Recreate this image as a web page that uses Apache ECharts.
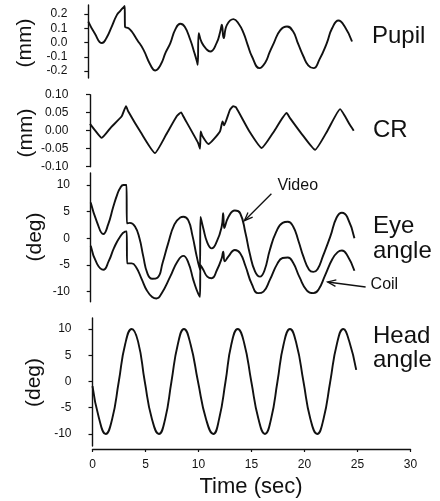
<!DOCTYPE html>
<html>
<head>
<meta charset="utf-8">
<script src="https://cdn.jsdelivr.net/npm/echarts@6/dist/echarts.min.js"></script>
<style>
  html, body { margin: 0; padding: 0; background: #fff; }
  #chart { width: 440px; height: 501px; }
</style>
</head>
<body>
<div id="chart"></div>
<script>
// Recorded traces: [time (s), value]
const pupilMm = [
  [0, 0.147], [0.6, 0.065], [1.29, -0.004], [1.7, 0.03], [2.2, 0.11], [2.7, 0.194],
  [3.0, 0.22], [3.43, 0.257], [3.46, 0.112], [3.8, 0.10], [4.1, 0.077], [4.6, 0.02],
  [5.2, -0.05], [5.85, -0.156], [6.32, -0.196], [6.8, -0.16], [7.3, -0.07], [7.74, -0.004],
  [8.2, 0.09], [8.68, 0.131], [9.1, 0.11], [9.62, 0.019], [10.0, -0.07], [10.25, -0.133],
  [10.32, -0.156], [10.42, 0.066], [10.7, 0.0], [11.2, -0.051], [11.5, -0.063], [12.1, -0.004],
  [12.45, 0.077], [12.6, 0.124], [12.77, 0.031], [13.08, 0.124], [13.7, 0.164], [14.2, 0.13],
  [14.65, 0.066], [15.05, -0.02], [15.44, -0.098], [16.16, -0.18], [16.7, -0.14], [17.1, -0.07],
  [17.5, -0.004], [18.1, 0.085], [18.75, 0.112], [19.3, 0.08], [19.8, -0.01], [20.3, -0.098],
  [20.75, -0.16], [21.25, -0.18], [21.8, -0.12], [22.5, -0.004], [23.0, 0.1], [23.6, 0.154],
  [24.2, 0.11], [24.88, 0.007]
];

const crMm = [
  [0, 0.019], [0.5, 0.0], [1.1, -0.020], [2.0, 0.01], [2.99, 0.040], [3.4, 0.068],
  [3.6, 0.054], [4.8, -0.005], [6.13, -0.062], [7.2, -0.01], [8.18, 0.040], [8.6, 0.051],
  [8.8, 0.040], [10.2, -0.034], [10.38, -0.05], [10.44, -0.002], [10.6, -0.015], [11.16, -0.037],
  [12.26, -0.002], [12.5, 0.026], [12.65, 0.015], [13.2, 0.058], [13.5, 0.068], [13.77, 0.065],
  [15.0, 0.0], [16.2, -0.048], [17.4, 0.0], [18.55, 0.049], [18.87, 0.035], [20.0, -0.01],
  [21.23, -0.053], [22.4, 0.0], [23.6, 0.06], [24.06, 0.040], [24.5, 0.017], [24.88, 0.0]
];

const eyeVideoDeg = [
  [0, 6.7], [0.6, 3.0], [1.19, 0.8], [1.65, 2.6], [2.13, 5.9], [2.5, 8.2], [2.77, 9.4],
  [3.08, 10.0], [3.38, 10.0], [3.41, 2.8], [3.7, 2.9], [4.18, 2.2], [4.6, 0.0], [4.96, -3.4],
  [5.35, -6.6], [5.8, -7.6], [6.3, -7.4], [6.8, -4.5], [7.3, -1.0], [7.9, 2.6], [8.45, 3.9],
  [8.74, 4.05], [9.2, 3.4], [9.6, 0.5], [10.0, -3.4], [10.3, -5.9], [10.36, 4.0], [10.62, 1.9],
  [11.0, -0.8], [11.42, -1.9], [11.9, -0.6], [12.36, 2.2], [12.5, 4.7], [12.6, 1.9], [13.0, 4.05],
  [13.6, 5.2], [14.1, 4.7], [14.6, 1.0], [15.0, -2.8], [15.5, -6.2], [15.97, -7.2], [16.4, -6.0],
  [16.9, -2.2], [17.5, 1.2], [18.1, 2.9], [18.6, 3.1], [19.1, 2.2], [19.6, -0.5], [20.06, -3.4],
  [20.6, -5.9], [21.0, -6.3], [21.4, -5.8], [21.9, -3.4], [22.6, 0.3], [23.2, 3.9], [23.7, 4.8],
  [24.2, 4.0], [24.88, 0.0]
];

const eyeCoilDeg = [
  [0, -1.4], [0.6, -4.8], [1.19, -5.9], [1.7, -4.3], [2.2, -1.8], [2.77, 0.3], [3.24, 1.25],
  [3.4, 1.3], [3.43, -4.7], [3.87, -4.7], [4.3, -5.5], [4.8, -7.6], [5.3, -9.8], [5.8, -11.0],
  [6.2, -11.3], [6.7, -10.3], [7.5, -7.2], [8.2, -4.3], [8.74, -3.3], [9.2, -4.5], [9.68, -7.8],
  [10.0, -9.7], [10.3, -11.0], [10.36, -5.0], [10.62, -5.9], [11.0, -7.2], [11.42, -7.5],
  [11.9, -6.0], [12.36, -3.75], [12.5, -2.5], [12.65, -4.3], [13.0, -3.4], [13.6, -2.2],
  [14.1, -2.8], [14.6, -5.2], [15.2, -8.6], [15.8, -10.3], [16.3, -10.0], [16.9, -7.8],
  [17.6, -4.8], [18.1, -3.7], [18.6, -3.6], [19.1, -4.6], [19.7, -7.3], [20.4, -9.8],
  [21.0, -10.3], [21.5, -9.6], [22.1, -7.0], [22.8, -3.9], [23.3, -2.6], [23.7, -2.3],
  [24.2, -3.2], [24.88, -6.1]
];

const headDeg = [
  [0, -0.9], [0.6, -6.9], [1.25, -10], [1.85, -7.2], [2.48, 0], [3.08, 7.1], [3.7, 10],
  [4.3, 7.6], [4.93, 0], [5.6, -7.1], [6.27, -10], [6.85, -7.2], [7.45, 0], [8.05, 7.1],
  [8.63, 10], [9.25, 7.1], [9.95, 0], [10.7, -7.1], [11.4, -10], [11.95, -7.1], [12.55, 0],
  [13.1, 7.1], [13.7, 10], [14.3, 7.4], [14.98, 0], [15.65, -7.1], [16.27, -10], [16.85, -7.1],
  [17.45, 0], [18.03, 7.1], [18.63, 10], [19.25, 7.1], [19.9, 0], [20.55, -7.1], [21.2, -10],
  [21.8, -7.1], [22.43, 0], [23.05, 7.1], [23.66, 10], [24.2, 7.8], [24.88, 2.2]
];

// Tick values
const timeTicks = { min: 0, max: 30, interval: 5 };
const pupilTicks = [-0.2, -0.1, 0.0, 0.1, 0.2];
const crTicks = [-0.10, -0.05, 0.00, 0.05, 0.10];
const degTicks = [-10, -5, 0, 5, 10];

const FONT = '"Liberation Sans", Arial, Helvetica, sans-serif';
const INK = '#111';

const chart = echarts.init(document.getElementById('chart'), null, { renderer: 'canvas' });

function yAxisFor(gridIndex, min, max, ticks, digits, offset) {
  return {
    type: 'value', gridIndex, min, max, offset,
    axisLine: { show: true, lineStyle: { color: INK, width: 1.4 } },
    axisTick: { show: true, length: 4, customValues: ticks, lineStyle: { color: INK, width: 1.2 } },
    axisLabel: {
      show: true, customValues: ticks, margin: 10,
      fontFamily: FONT, fontSize: 12, color: INK,
      formatter: v => Number(v).toFixed(digits)
    },
    splitLine: { show: false }
  };
}

function hiddenX(gridIndex) {
  return {
    type: 'value', gridIndex, min: timeTicks.min, max: timeTicks.max,
    show: false, splitLine: { show: false }
  };
}

function trace(data, idx, smooth) {
  return {
    type: 'line', xAxisIndex: idx, yAxisIndex: idx, data,
    showSymbol: false, smooth, silent: true,
    lineStyle: { color: INK, width: 1.9 }
  };
}

chart.setOption({
  animation: false,
  backgroundColor: '#fff',
  grid: [
    { left: 88.3, top: 5, width: 318, height: 73, outerBoundsMode: 'none' },
    { left: 90, top: 94.7, width: 318, height: 72, outerBoundsMode: 'none' },
    { left: 90.7, top: 173, width: 318, height: 128.7, outerBoundsMode: 'none' },
    { left: 92.5, top: 318, width: 318, height: 128, outerBoundsMode: 'none' }
  ],
  xAxis: [
    hiddenX(0), hiddenX(1), hiddenX(2),
    {
      type: 'value', gridIndex: 3, min: timeTicks.min, max: timeTicks.max,
      interval: timeTicks.interval, offset: 3,
      axisLine: { show: true, onZero: false, lineStyle: { color: INK, width: 1.4 } },
      axisTick: { show: true, length: 3, lineStyle: { color: INK, width: 1.2 } },
      axisLabel: { fontFamily: FONT, fontSize: 12, color: INK, margin: 10 },
      splitLine: { show: false }
    }
  ],
  yAxis: [
    yAxisFor(0, -0.249, 0.263, pupilTicks, 1, 11),
    yAxisFor(1, -0.1, 0.1, crTicks, 2, 11.7),
    yAxisFor(2, -11.9, 12.25, degTicks, 0, 10.7),
    yAxisFor(3, -12.3, 12.1, degTicks, 0, 11)
  ],
  series: [
    trace(pupilMm, 0, 0.5),
    trace(crMm, 1, 0.15),
    trace(eyeVideoDeg, 2, 0.5),
    trace(eyeCoilDeg, 2, 0.5),
    trace(headDeg, 3, 0.5)
  ]
});

// Annotation arrows point at positions on the eye traces
function arrow(tipData, dx, dy) {
  const tip = chart.convertToPixel({ xAxisIndex: 2, yAxisIndex: 2 }, tipData);
  const tail = [tip[0] + dx, tip[1] + dy];
  const ang = Math.atan2(tail[1] - tip[1], tail[0] - tip[0]);
  const wing = 9, spread = 0.38;
  const w1 = [tip[0] + wing * Math.cos(ang + spread), tip[1] + wing * Math.sin(ang + spread)];
  const w2 = [tip[0] + wing * Math.cos(ang - spread), tip[1] + wing * Math.sin(ang - spread)];
  const st = { stroke: INK, lineWidth: 1.3, fill: null };
  return {
    tail,
    items: [
      { type: 'polyline', shape: { points: [tail, tip] }, style: st, silent: true },
      { type: 'polyline', shape: { points: [w1, tip, w2] }, style: st, silent: true }
    ]
  };
}

const videoArrow = arrow([14.5, 3.3], 27, -27);
const coilArrow = arrow([22.35, -8.2], 38, 5);

function label(text, x, y, size, extra) {
  return Object.assign({
    type: 'text', x, y, silent: true,
    style: { text, fontFamily: FONT, fontSize: size, fill: INK, align: 'left', verticalAlign: 'middle' }
  }, extra || {});
}

function yTitle(text, x, y) {
  return {
    type: 'text', x, y, rotation: Math.PI / 2, silent: true,
    style: { text, fontFamily: FONT, fontSize: 21, fill: INK, align: 'center', verticalAlign: 'middle' }
  };
}

chart.setOption({
  graphic: [
    label('Pupil', 372, 36, 24),
    label('CR', 373, 130.5, 24),
    label('Eye', 373, 226, 24),
    label('angle', 373, 251, 24),
    label('Head', 373, 336.5, 24),
    label('angle', 373, 360.5, 24),
    label('Video', videoArrow.tail[0] + 6, videoArrow.tail[1] - 8, 16),
    label('Coil', coilArrow.tail[0] + 5, coilArrow.tail[1] - 2, 16),
    yTitle('(mm)', 25, 43),
    yTitle('(mm)', 26, 133),
    yTitle('(deg)', 35, 237),
    yTitle('(deg)', 34, 382.5),
    {
      type: 'text', x: 251, y: 487, silent: true,
      style: { text: 'Time (sec)', fontFamily: FONT, fontSize: 22, fill: INK, align: 'center', verticalAlign: 'middle' }
    },
    ...videoArrow.items,
    ...coilArrow.items
  ]
});
</script>
</body>
</html>
